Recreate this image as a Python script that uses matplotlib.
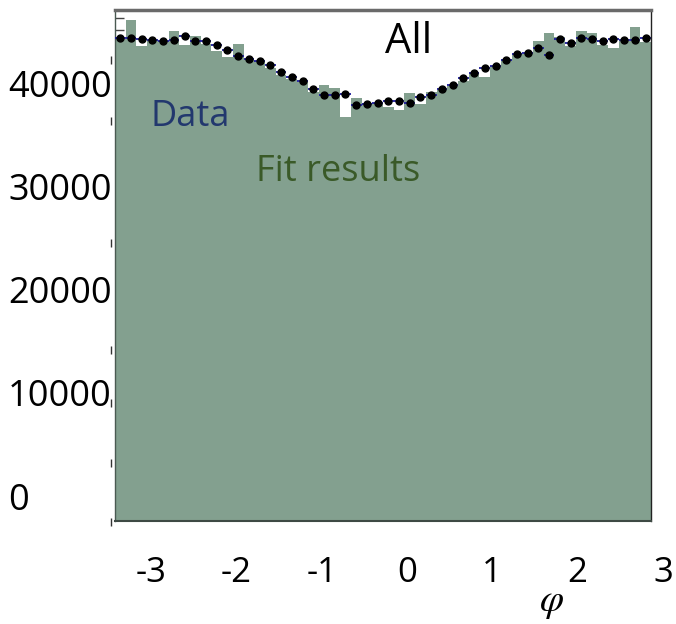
import matplotlib.pyplot as plt
import matplotlib.transforms as mtransforms
import numpy as np

plt.rcParams['font.family'] = ['Open Sans', 'DejaVu Sans']
plt.rcParams['mathtext.fontset'] = 'stix'

# 50 bins in phi over [-pi, pi]
n_bins = 50
edges = np.linspace(-np.pi, np.pi, n_bins + 1)
centers = 0.5 * (edges[1:] + edges[:-1])

# fitted yield per bin (filled histogram)
fit_counts = [
    44330, 46170, 43650, 44230, 44140, 45130, 43750, 44620, 43840, 43170,
    42610, 43840, 42340, 42200, 41520, 40790, 40450, 40110, 39220, 39870,
    39530, 36790, 38580, 38120, 38120, 37700, 37440, 39060, 37990, 39190,
    39380, 39720, 40280, 41000, 40610, 41710, 42340, 42900, 42900, 44140,
    44880, 44550, 43680, 45100, 44940, 43720, 43490, 44140, 45520, 44010,
]

# measured yield per bin (points)
data_counts = [
    44400, 44450, 44350, 44260, 44100, 44200, 44570, 44150, 44160, 43700,
    43260, 42710, 42360, 42200, 41810, 41110, 40610, 40260, 39450, 38930,
    38930, 38970, 37900, 38000, 38150, 38340, 38340, 38150, 38670, 38870,
    39510, 39820, 40590, 41050, 41520, 41660, 42270, 42900, 42920, 43480,
    42730, 44280, 43910, 44470, 44350, 44150, 44330, 44200, 44260, 44400,
]

y_ticks = [0, 10000, 20000, 30000, 40000]
x_ticks = [-3, -2, -1, 0, 1, 2, 3]
edge_marks = [42290, 36375, 24540, 14160, 9020, 3200, -2520]
inner_marks = [46330, 45200]

y_lo, y_hi = -2425, 47140

fig = plt.figure(figsize=(6.76, 6.24), dpi=100)
ax = fig.add_axes([0.170, 0.165, 0.793, 0.819])

ax.stairs(fit_counts, edges, baseline=y_lo, fill=True, color='#83a08f', lw=0)

half_width = 0.5 * (edges[1] - edges[0])
ax.errorbar(centers, data_counts, xerr=half_width, yerr=np.sqrt(data_counts),
            fmt='o', ms=5, mfc='black', mec='black', ecolor='#1c1c9c',
            elinewidth=1.3, capsize=0, zorder=3)

ax.set_xlim(-np.pi, np.pi)
ax.set_ylim(y_lo, y_hi)

# y labels, left aligned at the figure edge
ax.set_yticks(y_ticks)
ax.set_yticklabels([str(v) for v in y_ticks])
ax.tick_params(axis='y', length=0, pad=77, labelsize=26)
for lab in ax.get_yticklabels():
    lab.set_horizontalalignment('left')

# x labels sit a bit right of their tick values
ax.set_xticks(x_ticks)
ax.set_xticklabels([str(v) for v in x_ticks])
ax.tick_params(axis='x', length=0, pad=25, labelsize=25)
shift = mtransforms.ScaledTranslation(24 / 100, 0, fig.dpi_scale_trans)
for lab in ax.get_xticklabels():
    lab.set_transform(lab.get_transform() + shift)

ax.set_xlabel(r'$\varphi$', fontsize=28, va='center')
ax.xaxis.set_label_coords(0.815, -0.158)

# leftover tick marks along the frame
trans = mtransforms.blended_transform_factory(ax.transAxes, ax.transData)
ax.plot([-0.008] * len(edge_marks), edge_marks, ls='none', marker='|',
        ms=6, mew=1, color='#333333', transform=trans, clip_on=False)
ax.plot([0.0] * len(inner_marks), inner_marks, ls='none', marker=1,
        ms=6.5, mew=1, color='#444444', transform=trans, clip_on=False)

ax.text(0.547, 0.937, 'All', transform=ax.transAxes, fontsize=30,
        ha='center', va='center', color='black')
ax.text(0.140, 0.791, 'Data', transform=ax.transAxes, fontsize=26,
        ha='center', va='center', color='#22386e')
ax.text(0.416, 0.683, 'Fit results', transform=ax.transAxes, fontsize=26,
        ha='center', va='center', color='#3a5a28')

ax.spines['top'].set_color('#6a6a6a')
ax.spines['top'].set_linewidth(2.5)
ax.spines['right'].set_color('#222222')
ax.spines['right'].set_linewidth(1)
ax.spines['left'].set_color('#4a5a52')
ax.spines['left'].set_linewidth(1)
ax.spines['bottom'].set_color('#3e4a44')
ax.spines['bottom'].set_linewidth(1.5)

fig.savefig('out.png', dpi=100)
